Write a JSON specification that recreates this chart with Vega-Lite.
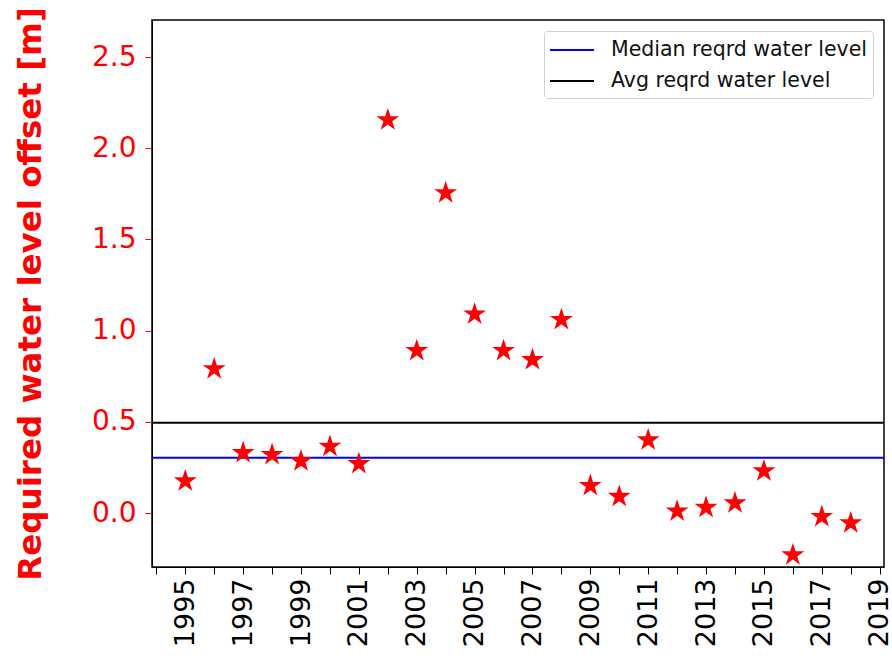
{
  "$schema": "https://vega.github.io/schema/vega-lite/v6.json",
  "width": 732,
  "height": 547,
  "autosize": "none",
  "padding": {"left": 152, "top": 20, "right": 8, "bottom": 104},
  "background": "white",
  "config": {
    "font": "DejaVu Sans",
    "view": {"stroke": "black", "strokeWidth": 1.5},
    "axis": {"grid": false}
  },
  "layer": [
    {
      "data": {"values": [
        {"name": "Median reqrd water level", "level": 0.3025},
        {"name": "Avg reqrd water level", "level": 0.495}
      ]},
      "mark": {"type": "rule", "strokeWidth": 2},
      "encoding": {
        "y": {"field": "level", "type": "quantitative", "scale": {"domain": [-0.296, 2.703], "nice": false, "zero": false}},
        "color": {
          "field": "name",
          "type": "nominal",
          "scale": {"domain": ["Median reqrd water level", "Avg reqrd water level"], "range": ["blue", "black"]},
          "legend": {
            "title": null,
            "orient": "top-right",
            "offset": 11,
            "symbolType": "M-1.08,0L2.58,0",
            "symbolSize": 576,
            "symbolStrokeWidth": 2,
            "labelFontSize": 20.5,
            "labelColor": "#111",
            "labelLimit": 400,
            "labelOffset": 35,
            "rowPadding": 7,
            "padding": 6,
            "fillColor": "white",
            "strokeColor": "#d0d0d0",
            "cornerRadius": 3
          }
        }
      }
    },
    {
      "data": {"values": [
        {"year": 1995, "offset": 0.175},
        {"year": 1996, "offset": 0.79},
        {"year": 1997, "offset": 0.33},
        {"year": 1998, "offset": 0.32},
        {"year": 1999, "offset": 0.285},
        {"year": 2000, "offset": 0.365},
        {"year": 2001, "offset": 0.27},
        {"year": 2002, "offset": 2.155},
        {"year": 2003, "offset": 0.89},
        {"year": 2004, "offset": 1.755},
        {"year": 2005, "offset": 1.09},
        {"year": 2006, "offset": 0.89},
        {"year": 2007, "offset": 0.84},
        {"year": 2008, "offset": 1.06},
        {"year": 2009, "offset": 0.15},
        {"year": 2010, "offset": 0.09},
        {"year": 2011, "offset": 0.40},
        {"year": 2012, "offset": 0.01},
        {"year": 2013, "offset": 0.03},
        {"year": 2014, "offset": 0.055},
        {"year": 2015, "offset": 0.23},
        {"year": 2016, "offset": -0.23},
        {"year": 2017, "offset": -0.02},
        {"year": 2018, "offset": -0.055}
      ]},
      "mark": {
        "type": "point",
        "shape": "M0,-1 L0.2245,-0.309 L0.9511,-0.309 L0.3633,0.118 L0.5878,0.809 L0,0.382 L-0.5878,0.809 L-0.3633,0.118 L-0.9511,-0.309 L-0.2245,-0.309 Z",
        "filled": true,
        "color": "red",
        "opacity": 1,
        "size": 580
      },
      "encoding": {
        "x": {
          "field": "year",
          "type": "quantitative",
          "scale": {"domain": [1993.85, 2019.15], "nice": false, "zero": false},
          "axis": {
            "title": null,
            "values": [1994,1995,1996,1997,1998,1999,2000,2001,2002,2003,2004,2005,2006,2007,2008,2009,2010,2011,2012,2013,2014,2015,2016,2017,2018,2019],
            "labelExpr": "datum.value % 2 == 1 ? datum.label : ''",
            "format": "d",
            "labelAngle": -90,
            "labelFontSize": 27,
            "labelColor": "black",
            "labelPadding": 4,
            "labelOverlap": false,
            "tickSize": 7,
            "tickColor": "black",
            "domainColor": "black"
          }
        },
        "y": {
          "field": "offset",
          "type": "quantitative",
          "axis": {
            "title": "Required water level offset [m]",
            "titleColor": "red",
            "titleFontSize": 32.5,
            "titleFontWeight": "bold",
            "titlePadding": 44,
            "values": [0, 0.5, 1, 1.5, 2, 2.5],
            "format": ".1f",
            "labelColor": "red",
            "labelFontSize": 28,
            "labelPadding": 9,
            "tickSize": 7,
            "tickColor": "red",
            "domainColor": "black"
          }
        }
      }
    }
  ]
}
